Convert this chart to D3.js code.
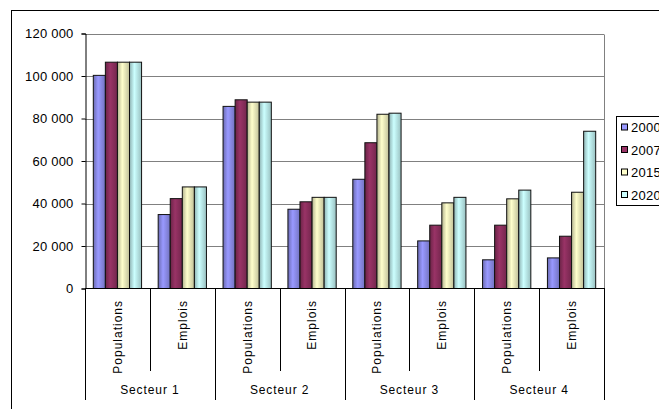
<!DOCTYPE html>
<html>
<head>
<meta charset="utf-8">
<script src="https://cdn.jsdelivr.net/npm/d3@7"></script>
<style>
html,body{margin:0;padding:0;background:#fff;}
svg{display:block;font-family:"Liberation Sans",Arial,sans-serif;}
</style>
</head>
<body>
<svg id="chart" width="659" height="409"></svg>
<script>
const sectors = ["Secteur 1","Secteur 2","Secteur 3","Secteur 4"];
const subCategories = ["Populations","Emplois"];
const years = ["2000","2007","2015","2020"];
const v2000 = [100300, 34800, 85700, 37300, 51400, 22400, 13500, 14400];
const v2007 = [106500, 42300, 88800, 40800, 68600, 29800, 29800, 24600];
const v2015 = [106500, 47800, 87700, 42900, 82000, 40300, 42200, 45300];
const v2020 = [106500, 47800, 87700, 42900, 82500, 42900, 46300, 74000];
const yTicks = [0, 20000, 40000, 60000, 80000, 100000, 120000];
const yTickLabels = ["0","20 000","40 000","60 000","80 000","100 000","120 000"];
const colors = ["#9999ff","#993366","#ffffcc","#ccffff"];

const series = [v2000, v2007, v2015, v2020];
const cats = [];
sectors.forEach((s,i)=>subCategories.forEach((c,j)=>cats.push({key:s+"|"+c, sector:s, sub:c, idx:i*2+j})));

const svg = d3.select("#chart");
const L = 85, R = 604, T = 33.5, B = 288.5;

// outer frame
svg.append("rect").attr("x",11.5).attr("y",10.5).attr("width",720).attr("height",460)
  .attr("fill","#fff").attr("stroke","#000").attr("stroke-width",1);

const defs = svg.append("defs");
colors.forEach((c,i)=>{
  const g = defs.append("linearGradient").attr("id","g"+i).attr("x1","0").attr("x2","1").attr("y1","0").attr("y2","0");
  g.append("stop").attr("offset","0%").attr("stop-color",d3.rgb(c).darker(1.0));
  g.append("stop").attr("offset","40%").attr("stop-color",c);
  g.append("stop").attr("offset","100%").attr("stop-color",d3.rgb(c).darker(0.8));
});

const x = d3.scaleBand().domain(cats.map(d=>d.key)).range([L, R]).padding(0);
const bw = x.bandwidth();
const xs = d3.scaleBand().domain(years).range([bw*0.128, bw*0.872]).padding(0);
const y = d3.scaleLinear().domain([0,120000]).range([B, T]);

// gridlines
svg.append("g").selectAll("line").data(yTicks.slice(1)).join("line")
  .attr("x1",L).attr("x2",R).attr("y1",d=>Math.round(y(d))+0.5).attr("y2",d=>Math.round(y(d))+0.5)
  .attr("stroke","#808080").attr("stroke-width",1);
// plot right border
svg.append("line").attr("x1",R+0.5).attr("x2",R+0.5).attr("y1",Math.round(y(120000))+0.5).attr("y2",B)
  .attr("stroke","#808080");

// bars
const gBars = svg.append("g");
cats.forEach(c=>{
  years.forEach((yr,si)=>{
    const val = series[si][c.idx];
    gBars.append("rect")
      .attr("x", x(c.key)+xs(yr))
      .attr("y", y(val))
      .attr("width", xs.bandwidth())
      .attr("height", B - y(val))
      .attr("fill","url(#g"+si+")")
      .attr("stroke","#111").attr("stroke-width",1);
  });
});

// y axis
const yAxis = d3.axisLeft(y).tickValues(yTicks).tickSize(4).tickPadding(8)
  .tickFormat((d,i)=>yTickLabels[i]);
const ga = svg.append("g").attr("transform",`translate(${L+0.5},0)`).call(yAxis);
ga.select(".domain").attr("stroke","#000");
ga.selectAll(".tick line").attr("stroke","#000");
ga.selectAll("text").attr("font-size","13px").attr("letter-spacing","0.2px")
  .attr("font-family","'Liberation Sans',Arial,sans-serif").attr("fill","#000");

// x axis line
svg.append("line").attr("x1",L).attr("x2",R+1).attr("y1",B).attr("y2",B).attr("stroke","#000");

// category boundary lines
const bounds = d3.range(cats.length+1);
svg.append("g").selectAll("line").data(bounds).join("line")
  .attr("x1",i=>Math.round(L + i*bw)+0.5).attr("x2",i=>Math.round(L + i*bw)+0.5)
  .attr("y1",B).attr("y2",i=> i%2===0 ? 400 : 371)
  .attr("stroke","#000");

// sub category labels
svg.append("g").selectAll("text").data(cats).join("text")
  .attr("transform",d=>`translate(${x(d.key)+bw/2},300) rotate(-90)`)
  .attr("text-anchor","end").attr("dy","0.36em")
  .attr("font-size","12px").attr("letter-spacing","1px")
  .text(d=>d.sub);

// sector labels
const xSector = d3.scaleBand().domain(sectors).range([L,R]).padding(0);
svg.append("g").selectAll("text").data(sectors).join("text")
  .attr("x",d=>xSector(d)+xSector.bandwidth()/2).attr("y",390).attr("dy","0.36em")
  .attr("text-anchor","middle").attr("font-size","12px").attr("letter-spacing","0.9px")
  .text(d=>d);

// legend
const lg = svg.append("g");
lg.append("rect").attr("x",616.5).attr("y",116.5).attr("width",100).attr("height",89)
  .attr("fill","#fff").attr("stroke","#000");
const ly = d3.scalePoint().domain(years).range([127.5,195]);
years.forEach((yr,i)=>{
  lg.append("rect").attr("x",621.5).attr("y",ly(yr)-3.5).attr("width",6).attr("height",6)
    .attr("fill",colors[i]).attr("stroke","#000");
  lg.append("text").attr("x",631).attr("y",ly(yr)).attr("dy","0.36em")
    .attr("font-size","13px").attr("letter-spacing","0.3px").text(yr);
});
</script>
</body>
</html>
